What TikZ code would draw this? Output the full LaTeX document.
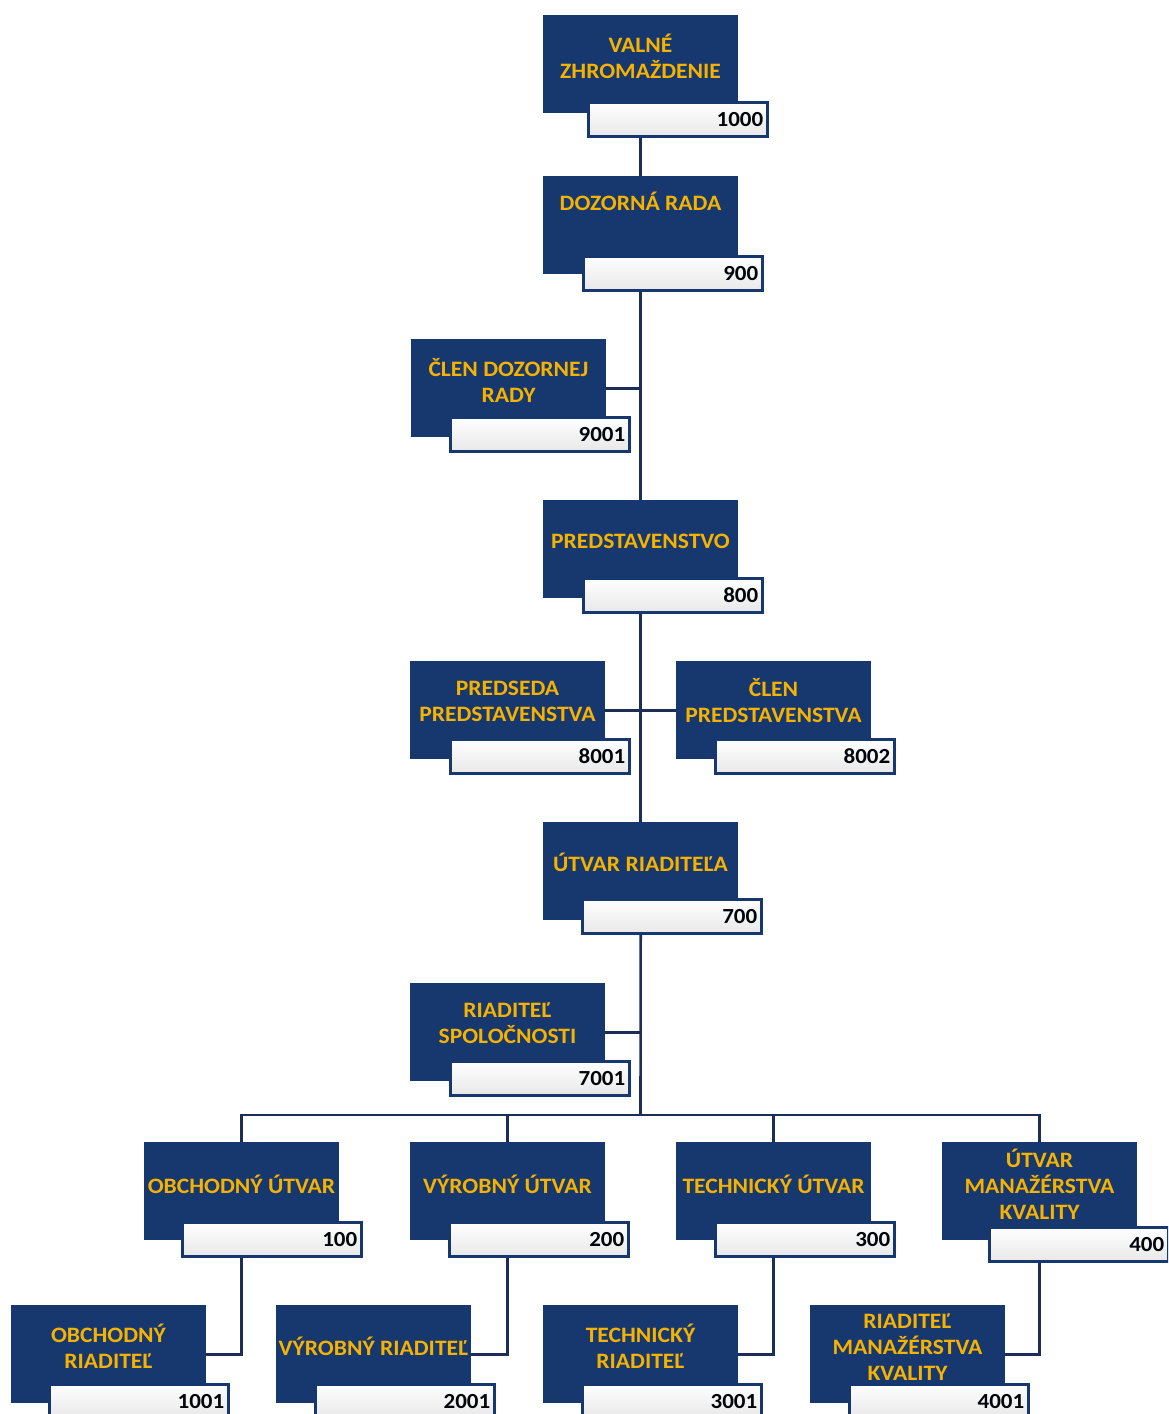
\documentclass[tikz,border=0pt]{standalone}
\usepackage{fontspec}
\setmainfont{Carlito}[FakeStretch=1.07]
\usetikzlibrary{calc}
\definecolor{navy}{HTML}{17376F}
\definecolor{gold}{HTML}{F5B300}
\definecolor{linec}{HTML}{1C2E55}
\tikzset{
  bluebox/.style={fill=navy, inner sep=0pt, anchor=north west, minimum width=195pt, minimum height=98pt},
  numbox/.style={draw=navy, line width=2.5pt, top color=white, bottom color=gray!18, inner sep=0pt, anchor=north west, minimum width=179pt, minimum height=34pt, font=\bfseries\fontsize{21.5}{22}\selectfont, text=black!90!navy, align=right, text width=171pt},
  titletext/.style={text=gold, font=\bfseries\fontsize{22}{26}\selectfont, align=center, inner sep=0pt},
  conn/.style={draw=linec, line width=2.6pt},
}
% name, x1, y1, nx, ny, title, ty, number
\newcommand\orgbox[8]{%
  \node[bluebox] (#1) at (#2,#3) {};
  \node[numbox] (#1n) at (#4,#5) {#8};
  \node[titletext] (#1t) at (#2+97.5,#7) {#6};
}
\begin{document}
\begin{tikzpicture}[x=1pt,y=-1pt]
\useasboundingbox (0,0) rectangle (1168,1414);
\clip (0,0) rectangle (1168,1414);
\fill[white] (0,0) rectangle (1168,1414);

\orgbox{vz}{543}{15}{587}{101}{VALNÉ\\ZHROMAŽDENIE}{56}{1000}
\orgbox{dr}{543}{176}{582}{255}{DOZORNÁ RADA}{201}{900}
\orgbox{cd}{411}{339}{449}{416}{ČLEN DOZORNEJ\\RADY}{380}{9001}
\orgbox{pr}{543}{500}{582}{577}{PREDSTAVENSTVO}{541}{800}
\orgbox{ps}{410}{661}{449}{738}{PREDSEDA\\PREDSTAVENSTVA}{701}{8001}
\orgbox{cp}{676}{661}{714}{738}{ČLEN\\PREDSTAVENSTVA}{701}{8002}
\orgbox{ur}{543}{822}{581}{898}{ÚTVAR RIADITEĽA}{862}{700}
\orgbox{rs}{410}{983}{449}{1060}{RIADITEĽ\\SPOLOČNOSTI}{1023}{7001}
\orgbox{ou}{144}{1142}{181}{1221}{OBCHODNÝ ÚTVAR}{1184}{100}
\orgbox{vu}{410}{1142}{448}{1221}{VÝROBNÝ ÚTVAR}{1184}{200}
\orgbox{tu}{676}{1142}{714}{1221}{TECHNICKÝ ÚTVAR}{1184}{300}
\orgbox{mu}{942}{1142}{988}{1226}{ÚTVAR\\MANAŽÉRSTVA\\KVALITY}{1184}{400}
\orgbox{or}{11}{1305}{48}{1383}{OBCHODNÝ\\RIADITEĽ}{1346}{1001}
\orgbox{vr}{276}{1305}{314}{1383}{VÝROBNÝ RIADITEĽ}{1346}{2001}
\orgbox{tr}{543}{1305}{581}{1383}{TECHNICKÝ\\RIADITEĽ}{1346}{3001}
\orgbox{rm}{810}{1305}{848}{1383}{RIADITEĽ\\MANAŽÉRSTVA\\KVALITY}{1347}{4001}

\coordinate (bus) at (640.5,1115);

\draw[conn] (vz.south |- vzn.south) -- (dr.north);
\draw[conn] (dr.south |- drn.south) -- (pr.north);
\draw[conn] (cd.east) -- (cd.east -| pr.north);
\draw[conn] (pr.south |- prn.south) -- (ur.north);
\draw[conn] (ps.east) -- (cp.west);
\draw[conn] (ur.south |- urn.south) -- (bus);
\draw[conn] (rs.east) -- (rs.east -| bus);
\draw[conn] (ou.north) -- (ou.north |- bus) -- (mu.north |- bus) -- (mu.north);
\draw[conn] (vu.north) -- (vu.north |- bus);
\draw[conn] (tu.north) -- (tu.north |- bus);
\draw[conn] (ou.south |- oun.south) -- (ou.south |- or.east) -- (or.east);
\draw[conn] (vu.south |- vun.south) -- (vu.south |- vr.east) -- (vr.east);
\draw[conn] (tu.south |- tun.south) -- (tu.south |- tr.east) -- (tr.east);
\draw[conn] (mu.south |- mun.south) -- (mu.south |- rm.east) -- (rm.east);
\end{tikzpicture}
\end{document}
